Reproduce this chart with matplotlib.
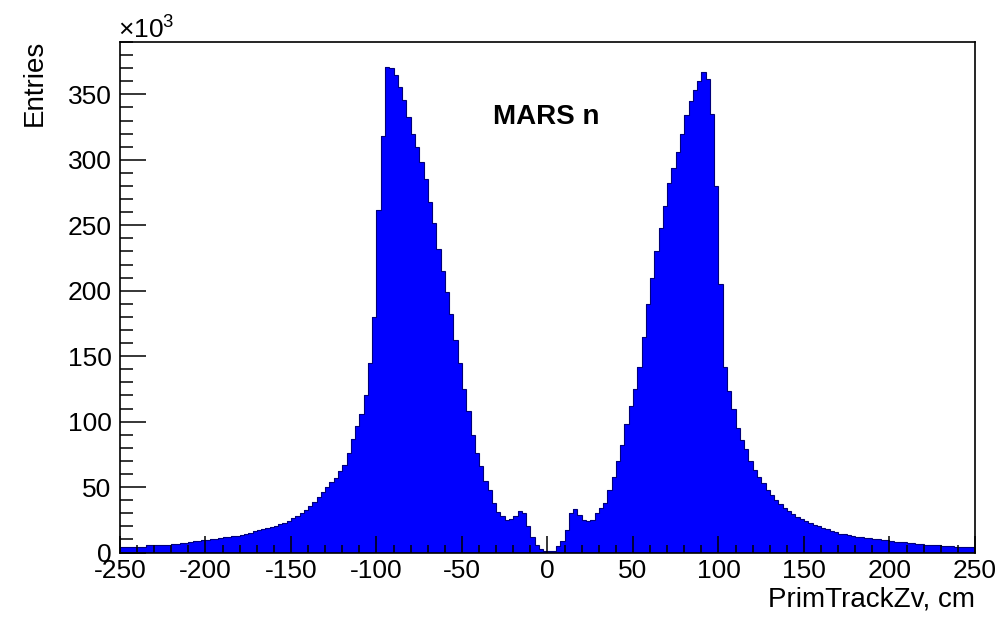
import numpy as np
import matplotlib
matplotlib.use("Agg")
import matplotlib.pyplot as plt
from matplotlib.ticker import MultipleLocator

plt.rcParams['font.family'] = ['Liberation Sans', 'DejaVu Sans']
plt.rcParams['mathtext.fontset'] = 'custom'
plt.rcParams['mathtext.rm'] = 'Liberation Sans'
plt.rcParams['mathtext.it'] = 'Liberation Sans'

# Histogram contents (thousands of entries), 2.5 cm bins from -250 to 250
left_counts = [
    4.4, 4.4, 4.3, 4.1, 4.0, 4.2, 5.5, 5.6, 5.7, 5.8,
    5.8, 6.0, 6.3, 6.8, 7.0, 7.3, 8.2, 8.8, 9.0, 9.3,
    9.8, 10.2, 10.5, 11.0, 11.6, 12.0, 12.3, 12.8, 13.5, 14.2,
    15.0, 16.2, 17.0, 17.8, 18.7, 19.5, 20.4, 21.5, 22.8, 24.0,
    26, 27.8, 30, 32.5, 35.5, 38.8, 42.5, 46, 50, 54,
    57, 62, 67, 76, 87, 97, 106, 120, 145, 180,
    262, 318, 371, 370, 365, 356, 346, 333, 320, 310,
    298, 285, 268, 252, 232, 215, 199, 182, 162, 145,
    125, 108, 90, 76, 66, 55, 48, 38, 31, 28,
    25, 25.5, 28, 32, 30, 20, 12, 6, 2.5, 1.2,
]
right_counts = [
    1.2, 1.5, 5, 8.5, 17, 30, 33.5, 29, 25, 24,
    25, 30, 34, 38, 48, 58, 70, 82, 98, 112,
    125, 142, 165, 190, 210, 230, 248, 265, 282, 294,
    306, 320, 334, 345, 353, 360, 367, 362, 335, 280,
    205, 142, 123, 110, 95, 86, 79, 70, 63, 58,
    53, 48, 44, 40, 37, 34, 32, 29.5, 27.5, 25.5,
    24.2, 22.8, 21.2, 20, 18.5, 17.7, 16.8, 15.5, 14.5, 13.8,
    13, 12.3, 11.8, 11.5, 11.2, 10.8, 10.3, 10, 9.6, 9.2,
    8.6, 8.3, 8.0, 7.7, 7.3, 7.0, 6.8, 6.5, 6.0, 5.8,
    5.6, 5.4, 5.0, 4.8, 4.6, 4.5, 4.4, 4.3, 4.2, 4.3,
]
x_range = (-250, 250)
x_ticks = [-250, -200, -150, -100, -50, 0, 50, 100, 150, 200, 250]
y_ticks = [0, 50, 100, 150, 200, 250, 300, 350]
title_text = "MARS n"
x_label = "PrimTrackZv, cm"
y_label = "Entries"

counts = np.array(left_counts + right_counts, dtype=float)
edges = np.linspace(x_range[0], x_range[1], len(counts) + 1)

W, H = 1003, 618
fig = plt.figure(figsize=(W / 100, H / 100), dpi=100)
ax = fig.add_axes([120 / W, (H - 552.5) / H, (975 - 120) / W, (552.5 - 42) / H])

ax.stairs(counts, edges, fill=True, facecolor='#0000ff', edgecolor='#0000ff', linewidth=0)
ax.stairs(counts, edges, fill=False, color='#00007a', linewidth=0.8)

ax.set_xlim(*x_range)
ax.set_ylim(0, 390)
ax.set_xticks(x_ticks)
ax.set_yticks(y_ticks)
ax.xaxis.set_minor_locator(MultipleLocator(10))
ax.yaxis.set_minor_locator(MultipleLocator(10))
ax.tick_params(axis='both', which='both', direction='in', top=False, right=False,
               width=1.1, colors='black', labelsize=19)
ax.tick_params(axis='x', which='major', length=12, pad=5)
ax.tick_params(axis='x', which='minor', length=6)
ax.tick_params(axis='y', which='major', length=19, pad=6)
ax.tick_params(axis='y', which='minor', length=9.5)
for s in ax.spines.values():
    s.set_linewidth(1.2)

ax.set_xticklabels([str(t) for t in x_ticks])
ax.set_yticklabels([str(t) for t in y_ticks])

fig.text(975 / W, 1 - 600 / H, x_label, ha='right', va='center', fontsize=20)
fig.text(35 / W, 1 - 40 / H, y_label, ha='center', va='top', rotation=90, fontsize=20)
fig.text(118 / W, 1 - 30 / H, r'$\times10^{3}$', ha='left', va='center', fontsize=19)
ax.text(-32, 333, title_text, ha='left', va='center', fontsize=20, fontweight='bold')

fig.savefig('out.png', dpi=100)
